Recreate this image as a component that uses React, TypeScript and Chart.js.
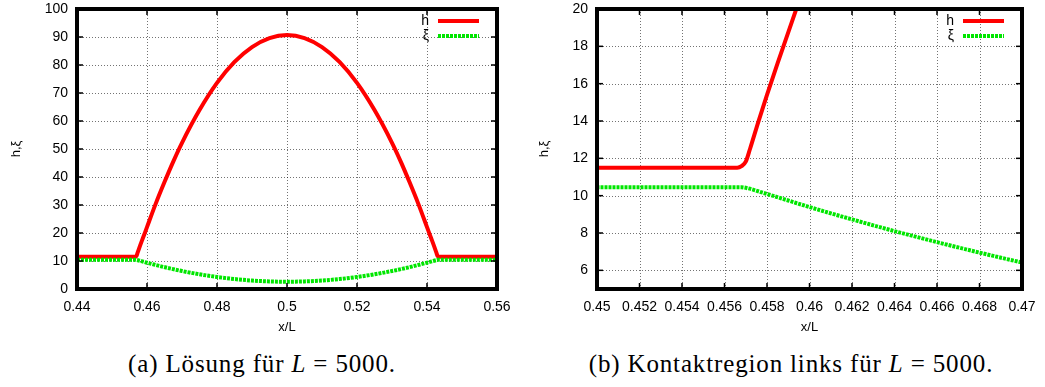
import React, { useEffect, useRef } from "react";
import { Chart, registerables } from "chart.js";

Chart.register(...registerables);

// ---- data ----
const hX = [0.44, 0.4566, 0.4568, 0.457, 0.4572, 0.4576, 0.458, 0.4585, 0.459, 0.4595, 0.46, 0.4625, 0.465, 0.4675, 0.47, 0.475, 0.48, 0.485, 0.49, 0.495, 0.5, 0.505, 0.51, 0.515, 0.52, 0.525, 0.53, 0.5325, 0.535, 0.5375, 0.54, 0.5405, 0.541, 0.5415, 0.542, 0.5424, 0.5428, 0.543, 0.5432, 0.5434, 0.56];
const hY = [11.5, 11.5, 11.58, 11.82, 12.5, 13.98, 15.4, 17.1, 18.75, 20.4, 22.1, 30.5, 38.2, 45.5, 52.2, 63.9, 73.6, 81.1, 86.4, 89.6, 90.7, 89.6, 86.4, 81.1, 73.6, 63.9, 52.2, 45.5, 38.2, 30.5, 22.1, 20.4, 18.75, 17.1, 15.4, 13.98, 12.5, 11.82, 11.58, 11.5, 11.5];

const xiX = [0.44, 0.4568, 0.457, 0.458, 0.459, 0.46, 0.462, 0.464, 0.466, 0.468, 0.47, 0.475, 0.48, 0.485, 0.49, 0.495, 0.5, 0.505, 0.51, 0.515, 0.52, 0.525, 0.53, 0.535, 0.54, 0.542, 0.543, 0.5432, 0.56];
const xiY = [10.45, 10.45, 10.42, 10.09, 9.74, 9.39, 8.73, 8.1, 7.51, 6.95, 6.42, 5.25, 4.3, 3.55, 3.02, 2.71, 2.6, 2.71, 3.02, 3.55, 4.3, 5.25, 6.42, 7.8, 9.39, 10.09, 10.42, 10.45, 10.45];

const seriesLabels = ["h", "ξ"];
const seriesColors = ["#ff0000", "#00e600"];

const leftXTicks = [0.44, 0.46, 0.48, 0.5, 0.52, 0.54, 0.56];
const leftXTickLabels = ["0.44", "0.46", "0.48", "0.5", "0.52", "0.54", "0.56"];
const leftYTicks = [0, 10, 20, 30, 40, 50, 60, 70, 80, 90, 100];

const rightXTicks = [0.45, 0.452, 0.454, 0.456, 0.458, 0.46, 0.462, 0.464, 0.466, 0.468, 0.47];
const rightXTickLabels = ["0.45", "0.452", "0.454", "0.456", "0.458", "0.46", "0.462", "0.464", "0.466", "0.468", "0.47"];
const rightYTicks = [6, 8, 10, 12, 14, 16, 18, 20];

const xTitle = "x/L";
const yTitle = "h,ξ";

const SANS = "'Liberation Sans', Arial, sans-serif";

type PanelCfg = {
  xMin: number; xMax: number; xTicks: number[]; xLabels: string[];
  yMin: number; yMax: number; yTicks: number[]; yTitlePad: number;
};

function framePlugin() {
  return {
    id: "gnuFrame",
    beforeDatasetsDraw(chart: any) {
      const { ctx, chartArea: a, scales } = chart;
      const x = scales.x, y = scales.y;
      ctx.save();
      ctx.strokeStyle = "rgba(0,0,0,0.55)";
      ctx.lineWidth = 1;
      ctx.setLineDash([1, 2]);
      x.ticks.forEach((t: any) => {
        const px = Math.round(x.getPixelForValue(t.value)) + 0.5;
        ctx.beginPath(); ctx.moveTo(px, a.top); ctx.lineTo(px, a.bottom); ctx.stroke();
      });
      y.ticks.forEach((t: any) => {
        const py = Math.round(y.getPixelForValue(t.value)) + 0.5;
        ctx.beginPath(); ctx.moveTo(a.left, py); ctx.lineTo(a.right, py); ctx.stroke();
      });
      ctx.restore();
    },
    afterDatasetsDraw(chart: any) {
      const { ctx, chartArea: a, scales } = chart;
      const x = scales.x, y = scales.y;
      ctx.save();
      ctx.setLineDash([]);
      ctx.strokeStyle = "#000";
      ctx.lineWidth = 1.5;
      const tl = 6;
      x.ticks.forEach((t: any) => {
        const px = x.getPixelForValue(t.value);
        ctx.beginPath(); ctx.moveTo(px, a.bottom); ctx.lineTo(px, a.bottom - tl); ctx.stroke();
        ctx.beginPath(); ctx.moveTo(px, a.top); ctx.lineTo(px, a.top + tl); ctx.stroke();
      });
      y.ticks.forEach((t: any) => {
        const py = y.getPixelForValue(t.value);
        ctx.beginPath(); ctx.moveTo(a.left, py); ctx.lineTo(a.left + tl, py); ctx.stroke();
        ctx.beginPath(); ctx.moveTo(a.right, py); ctx.lineTo(a.right - tl, py); ctx.stroke();
      });
      ctx.lineWidth = 4;
      ctx.strokeRect(a.left, a.top, a.right - a.left, a.bottom - a.top);

      // legend (gnuplot style: text then sample)
      ctx.font = `14px ${SANS}`;
      ctx.textAlign = "right";
      ctx.textBaseline = "middle";
      seriesLabels.forEach((lab, i) => {
        const yy = a.top + 12 + i * 15;
        ctx.fillStyle = "#000";
        ctx.fillText(lab, a.right - 68, yy);
        ctx.strokeStyle = seriesColors[i];
        ctx.lineWidth = 4;
        ctx.setLineDash(i === 0 ? [] : [3, 1]);
        ctx.beginPath(); ctx.moveTo(a.right - 59, yy); ctx.lineTo(a.right - 18, yy); ctx.stroke();
      });
      ctx.restore();
    },
  };
}

function Panel({ cfg, left }: { cfg: PanelCfg; left: number }) {
  const ref = useRef<HTMLCanvasElement | null>(null);
  const W = left === 0 ? 520 : 525;
  const H = 345;
  useEffect(() => {
    if (!ref.current) return;
    const chart = new Chart(ref.current, {
      type: "line",
      data: {
        datasets: [
          {
            label: seriesLabels[0],
            data: hX.map((v, i) => ({ x: v, y: hY[i] })),
            borderColor: seriesColors[0],
            borderWidth: 4,
            pointRadius: 0,
            cubicInterpolationMode: "monotone",
            clip: 0,
            order: 1,
          },
          {
            label: seriesLabels[1],
            data: xiX.map((v, i) => ({ x: v, y: xiY[i] })),
            borderColor: seriesColors[1],
            borderWidth: 4,
            borderDash: [3, 1],
            pointRadius: 0,
            cubicInterpolationMode: "monotone",
            clip: 0,
            order: 0,
          },
        ],
      } as any,
      options: {
        animation: false,
        responsive: false,
        events: [],
        layout: { padding: { top: 9, right: 23, left: 0, bottom: 0 } },
        plugins: { legend: { display: false }, tooltip: { enabled: false } },
        scales: {
          x: {
            type: "linear",
            min: cfg.xMin,
            max: cfg.xMax,
            afterBuildTicks: (s: any) => { s.ticks = cfg.xTicks.map((v) => ({ value: v })); },
            afterFit: (s: any) => { s.height = 56; s.paddingLeft = 0; s.paddingRight = 0; },
            ticks: {
              callback: (_v: any, i: number) => cfg.xLabels[i],
              autoSkip: false,
              maxRotation: 0,
              padding: 10,
              color: "#000",
              font: { family: SANS, size: 14 },
            },
            grid: { display: false, drawTicks: false },
            border: { display: false },
            title: { display: true, text: xTitle, color: "#000", font: { family: SANS, size: 13 }, padding: { top: 0, bottom: 10 } },
          },
          y: {
            type: "linear",
            min: cfg.yMin,
            max: cfg.yMax,
            afterBuildTicks: (s: any) => { s.ticks = cfg.yTicks.map((v) => ({ value: v })); },
            afterFit: (s: any) => { s.width = 77; s.paddingTop = 0; s.paddingBottom = 0; },
            ticks: { padding: 9, color: "#000", font: { family: SANS, size: 14 } },
            grid: { display: false, drawTicks: false },
            border: { display: false },
            title: { display: true, text: yTitle, color: "#000", font: { family: SANS, size: 13 }, padding: { top: cfg.yTitlePad, bottom: 0 } },
          },
        },
      } as any,
      plugins: [framePlugin() as any],
    });
    return () => chart.destroy();
  }, []);
  return (
    <canvas
      ref={ref}
      width={W}
      height={H}
      style={{ position: "absolute", left, top: 0, width: W, height: H }}
    />
  );
}

const leftCfg: PanelCfg = { xMin: 0.44, xMax: 0.56, xTicks: leftXTicks, xLabels: leftXTickLabels, yMin: 0, yMax: 100, yTicks: leftYTicks, yTitlePad: 9 };
const rightCfg: PanelCfg = { xMin: 0.45, xMax: 0.47, xTicks: rightXTicks, xLabels: rightXTickLabels, yMin: 5, yMax: 20, yTicks: rightYTicks, yTitlePad: 17 };

const captionStyle: React.CSSProperties = {
  position: "absolute",
  top: 350,
  width: 560,
  textAlign: "center",
  fontFamily: "'Liberation Serif', 'Times New Roman', serif",
  fontSize: 25,
  letterSpacing: "0.85px",
  lineHeight: "28px",
  color: "#000",
  whiteSpace: "nowrap",
};

export default function App() {
  return (
    <div style={{ position: "absolute", left: 0, top: 0, width: 1045, height: 387, background: "#fff", overflow: "hidden" }}>
      <Panel cfg={leftCfg} left={0} />
      <Panel cfg={rightCfg} left={520} />
      <div style={{ ...captionStyle, left: 262 - 280 }}>
        (a) Lösung für <i>L</i> = 5000.
      </div>
      <div style={{ ...captionStyle, left: 791 - 280 }}>
        (b) Kontaktregion links für <i>L</i> = 5000.
      </div>
    </div>
  );
}
